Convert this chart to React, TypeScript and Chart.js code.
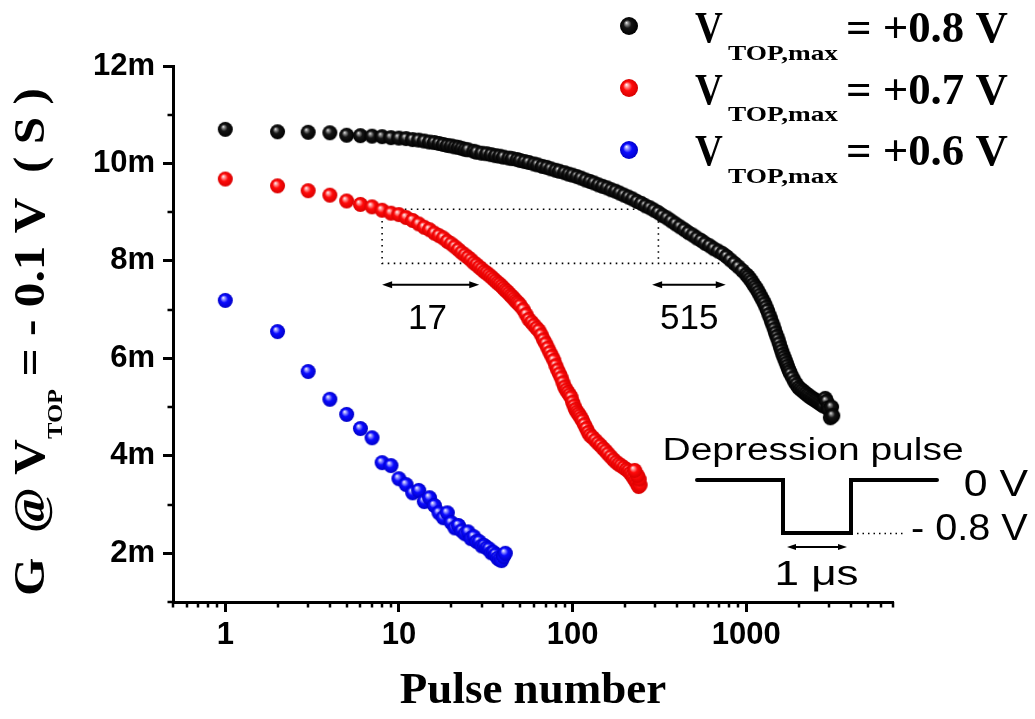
import React, { useEffect, useRef } from 'react';
import { Chart, registerables } from 'chart.js';

Chart.register(...registerables);

const SANS = '"Liberation Sans", Arial, Helvetica, sans-serif';
const SERIF = '"Liberation Serif", "Times New Roman", Times, serif';

// ---- axes ----
const xRange = [0.5, 7000];
const yRange = [1, 12];
const xMajorTicks = [1, 10, 100, 1000];
const xMinorTicks = [0.5, 0.6, 0.7, 0.8, 0.9, 2, 3, 4, 5, 6, 7, 8, 9, 20, 30, 40, 50, 60, 70, 80, 90, 200, 300, 400, 500, 600, 700, 800, 900, 2000, 3000, 4000, 5000, 6000, 7000];
const yMajorTicks = [2, 4, 6, 8, 10, 12];
const yMinorTicks = [1, 3, 5, 7, 9, 11];

// ---- series (G in mS) ----
const seriesVoltages = ['+0.8 V', '+0.7 V', '+0.6 V'];

const blackPulse = [1, 2, 3, 4, 5, 6, 7, 8, 9, 10, 11, 12, 13, 14, 15, 16, 17, 18, 19, 20, 21, 22, 23, 24, 25, 27, 28, 30, 32, 34, 36, 38, 40, 43, 45, 48, 50, 53, 56, 60, 63, 67, 71, 75, 80, 84, 90, 95, 100, 106, 112, 119, 126, 133, 141, 149, 158, 167, 177, 187, 198, 210, 222, 235, 249, 263, 279, 295, 312, 330, 350, 370, 392, 415, 440, 465, 492, 520, 550, 580, 615, 650, 690, 730, 770, 810, 855, 900, 950, 1000, 1025, 1050, 1075, 1100, 1125, 1150, 1175, 1200, 1225, 1250, 1275, 1300, 1325, 1350, 1375, 1400, 1425, 1450, 1475, 1500, 1525, 1550, 1575, 1600, 1625, 1650, 1675, 1700, 1725, 1750, 1775, 1800, 1850, 1900, 1950, 2000, 2050, 2100, 2150, 2200, 2250, 2300, 2350, 2400, 2450, 2500, 2550, 2600, 2650, 2700, 2750, 2800, 2850, 2900, 2950, 3000, 3050, 3100, 3150];
const blackG = [10.70, 10.65, 10.64, 10.63, 10.58, 10.57, 10.56, 10.55, 10.53, 10.52, 10.51, 10.49, 10.48, 10.46, 10.44, 10.43, 10.41, 10.39, 10.37, 10.36, 10.34, 10.33, 10.31, 10.29, 10.28, 10.25, 10.23, 10.21, 10.20, 10.18, 10.16, 10.15, 10.13, 10.11, 10.10, 10.08, 10.06, 10.04, 10.02, 9.99, 9.97, 9.94, 9.92, 9.89, 9.86, 9.84, 9.81, 9.78, 9.76, 9.73, 9.70, 9.66, 9.63, 9.60, 9.56, 9.53, 9.50, 9.46, 9.43, 9.39, 9.35, 9.31, 9.27, 9.22, 9.18, 9.13, 9.09, 9.04, 8.99, 8.93, 8.88, 8.82, 8.76, 8.70, 8.64, 8.58, 8.53, 8.47, 8.42, 8.36, 8.31, 8.25, 8.20, 8.15, 8.09, 8.02, 7.95, 7.88, 7.80, 7.72, 7.68, 7.63, 7.58, 7.52, 7.47, 7.42, 7.36, 7.30, 7.24, 7.18, 7.12, 7.05, 6.98, 6.90, 6.83, 6.75, 6.68, 6.60, 6.52, 6.45, 6.38, 6.30, 6.22, 6.15, 6.08, 6.02, 5.96, 5.90, 5.84, 5.78, 5.73, 5.68, 5.60, 5.52, 5.46, 5.40, 5.37, 5.34, 5.31, 5.28, 5.25, 5.23, 5.20, 5.18, 5.16, 5.14, 5.12, 5.10, 5.08, 5.06, 5.04, 5.02, 5.18, 5.12, 4.98, 4.95, 4.78, 5.00, 4.82];

const redPulse = [1, 2, 3, 4, 5, 6, 7, 8, 9, 10, 11, 12, 13, 14, 15, 16, 17, 18, 19, 20, 21, 22, 23, 24, 25, 26, 27, 28, 29, 30, 31, 32, 33, 34, 35, 36, 37, 38, 39, 40, 41, 42, 43, 44, 45, 46, 47, 48, 49, 50, 52, 54, 56, 58, 60, 62, 64, 66, 68, 70, 72, 74, 76, 78, 80, 82, 84, 86, 88, 90, 92, 94, 96, 98, 100, 102, 104, 106, 108, 110, 112, 114, 117, 120, 123, 126, 130, 135, 140, 145, 150, 155, 160, 166, 172, 178, 184, 190, 197, 204, 210, 215, 220, 225, 230, 235, 240, 245, 242, 236, 228];
const redG = [9.68, 9.54, 9.44, 9.35, 9.23, 9.16, 9.11, 9.04, 8.98, 8.95, 8.89, 8.83, 8.76, 8.69, 8.64, 8.57, 8.52, 8.47, 8.40, 8.35, 8.29, 8.23, 8.17, 8.12, 8.07, 8.02, 7.96, 7.92, 7.87, 7.83, 7.78, 7.75, 7.71, 7.67, 7.63, 7.59, 7.55, 7.52, 7.48, 7.44, 7.40, 7.37, 7.33, 7.29, 7.26, 7.22, 7.18, 7.15, 7.12, 7.08, 7.00, 6.90, 6.80, 6.74, 6.68, 6.62, 6.57, 6.48, 6.38, 6.30, 6.21, 6.12, 6.04, 5.96, 5.85, 5.76, 5.68, 5.60, 5.50, 5.41, 5.35, 5.30, 5.25, 5.20, 5.10, 5.02, 4.95, 4.90, 4.86, 4.82, 4.77, 4.72, 4.64, 4.56, 4.48, 4.42, 4.38, 4.32, 4.26, 4.21, 4.15, 4.10, 4.04, 3.98, 3.92, 3.87, 3.83, 3.80, 3.76, 3.72, 3.69, 3.64, 3.60, 3.54, 3.49, 3.43, 3.37, 3.40, 3.52, 3.60, 3.70];

const bluePulse = [1, 2, 3, 4, 5, 6, 7, 8, 9, 10, 11, 12, 13, 14, 15, 16, 17, 18, 19, 20, 21, 22, 23, 24, 25, 26, 27, 28, 29, 30, 31, 32, 33, 34, 35, 36, 37, 38, 39, 40, 41];
const blueG = [7.19, 6.55, 5.73, 5.16, 4.85, 4.56, 4.37, 3.86, 3.80, 3.53, 3.41, 3.24, 3.29, 3.06, 3.14, 2.98, 2.83, 2.73, 2.83, 2.63, 2.52, 2.57, 2.46, 2.40, 2.44, 2.30, 2.34, 2.24, 2.24, 2.15, 2.16, 2.11, 2.09, 2.01, 2.02, 1.97, 1.90, 1.87, 1.85, 1.93, 2.00];

// ---- annotation (data units) ----
const boxPulse = [8, 312];
const boxG = [9.06, 7.95];
const boxBottomEnd = 700;
const arrow17 = [8, 29];
const arrow515 = [287, 762];
const arrowG = 7.51;
const label17 = { text: '17', pulse: 14.6 };
const label515 = { text: '515', pulse: 470 };
const labelG = 6.61;

type Stop = [number, string];
const ballStops: Stop[][] = [
  [[0, '#f4f4f4'], [0.18, '#8a8a8a'], [0.45, '#151515'], [1, '#000000']],
  [[0, '#ffffff'], [0.2, '#ff9a9a'], [0.5, '#ff0a0a'], [1, '#d80000']],
  [[0, '#ffffff'], [0.2, '#9a9aff'], [0.5, '#0a0aff'], [1, '#0000c8']],
];

function makeBall(r: number, stops: Stop[]) {
  const size = Math.ceil(r * 2) + 2;
  const c = document.createElement('canvas');
  c.width = size;
  c.height = size;
  const g = c.getContext('2d')!;
  const cx = size / 2, cy = size / 2;
  const grad = g.createRadialGradient(cx - r * 0.3, cy - r * 0.38, 0, cx, cy, r);
  stops.forEach(([o, col]) => grad.addColorStop(o, col));
  g.fillStyle = grad;
  g.beginPath();
  g.arc(cx, cy, r, 0, Math.PI * 2);
  g.fill();
  return c;
}

function inkText(ctx: CanvasRenderingContext2D, text: string, font: string, left: number, baseline: number, width?: number) {
  ctx.save();
  ctx.font = font;
  ctx.textAlign = 'left';
  ctx.textBaseline = 'alphabetic';
  ctx.fillStyle = '#000';
  const m = ctx.measureText(text);
  const w = m.actualBoundingBoxLeft + m.actualBoundingBoxRight;
  const sx = width ? width / w : 1;
  ctx.translate(left, baseline);
  ctx.scale(sx, 1);
  ctx.fillText(text, m.actualBoundingBoxLeft, 0);
  ctx.restore();
}

function dArrow(ctx: CanvasRenderingContext2D, x1: number, x2: number, y: number, head = 10, half = 3.5, lw = 2) {
  ctx.save();
  ctx.strokeStyle = '#000';
  ctx.fillStyle = '#000';
  ctx.lineWidth = lw;
  ctx.beginPath();
  ctx.moveTo(x1 + head * 0.5, y);
  ctx.lineTo(x2 - head * 0.5, y);
  ctx.stroke();
  ctx.beginPath();
  ctx.moveTo(x1, y);
  ctx.lineTo(x1 + head, y - half);
  ctx.lineTo(x1 + head, y + half);
  ctx.closePath();
  ctx.fill();
  ctx.beginPath();
  ctx.moveTo(x2, y);
  ctx.lineTo(x2 - head, y - half);
  ctx.lineTo(x2 - head, y + half);
  ctx.closePath();
  ctx.fill();
  ctx.restore();
}

export default function App() {
  const ref = useRef<HTMLCanvasElement>(null);

  useEffect(() => {
    const canvas = ref.current!;
    const balls = ballStops.map((s) => makeBall(7.5, s));
    const legendBalls = ballStops.map((s) => makeBall(9, s));

    const annot = {
      id: 'annot',
      beforeDatasetsDraw(chart: any) {
        const { ctx } = chart;
        const x = chart.scales.x, y = chart.scales.y;
        const l = x.getPixelForValue(boxPulse[0]);
        const r = x.getPixelForValue(boxPulse[1]);
        const t = y.getPixelForValue(boxG[0]);
        const b = y.getPixelForValue(boxG[1]);
        const be = x.getPixelForValue(boxBottomEnd);
        ctx.save();
        ctx.strokeStyle = '#000';
        ctx.lineWidth = 1.6;
        ctx.setLineDash([1.6, 4.4]);
        ctx.beginPath();
        ctx.moveTo(r, t);
        ctx.lineTo(l, t);
        ctx.lineTo(l, b);
        ctx.lineTo(be, b);
        ctx.moveTo(r, t);
        ctx.lineTo(r, b);
        ctx.stroke();
        ctx.restore();
      },
      afterDraw(chart: any) {
        const { ctx, chartArea } = chart;
        const x = chart.scales.x, y = chart.scales.y;
        // minor ticks
        ctx.save();
        ctx.strokeStyle = '#000';
        ctx.lineWidth = 2.5;
        ctx.beginPath();
        xMinorTicks.forEach((v) => {
          const px = Math.round(x.getPixelForValue(v));
          ctx.moveTo(px, chartArea.bottom);
          ctx.lineTo(px, chartArea.bottom + 5.5);
        });
        yMinorTicks.forEach((v) => {
          const py = Math.round(y.getPixelForValue(v));
          ctx.moveTo(chartArea.left, py);
          ctx.lineTo(chartArea.left - 5.5, py);
        });
        ctx.stroke();
        ctx.restore();

        // arrows & labels
        const ay = y.getPixelForValue(arrowG);
        dArrow(ctx, x.getPixelForValue(arrow17[0]), x.getPixelForValue(arrow17[1]), ay);
        dArrow(ctx, x.getPixelForValue(arrow515[0]), x.getPixelForValue(arrow515[1]), ay);
        ctx.save();
        ctx.fillStyle = '#000';
        ctx.font = `35px ${SANS}`;
        ctx.textAlign = 'center';
        ctx.textBaseline = 'alphabetic';
        const ly = y.getPixelForValue(labelG);
        ctx.fillText(label17.text, x.getPixelForValue(label17.pulse), ly);
        ctx.fillText(label515.text, x.getPixelForValue(label515.pulse), ly);
        ctx.restore();

        // pulse inset
        inkText(ctx, 'Depression pulse', `31px ${SANS}`, 665, 460, 297);
        inkText(ctx, '0 V', `36px ${SANS}`, 965, 496, 63);
        inkText(ctx, '- 0.8 V', `37px ${SANS}`, 912, 540, 116);
        inkText(ctx, '1 \u03bcs', `35px ${SANS}`, 777, 585, 81);
        ctx.save();
        ctx.strokeStyle = '#000';
        ctx.lineWidth = 4;
        ctx.lineCap = 'round';
        ctx.lineJoin = 'miter';
        ctx.beginPath();
        ctx.moveTo(697, 480);
        ctx.lineTo(783, 480);
        ctx.lineTo(783, 533);
        ctx.lineTo(851, 533);
        ctx.lineTo(851, 480);
        ctx.lineTo(937, 480);
        ctx.stroke();
        ctx.lineWidth = 1.5;
        ctx.lineCap = 'butt';
        ctx.setLineDash([1.5, 4]);
        ctx.beginPath();
        ctx.moveTo(857, 533.5);
        ctx.lineTo(904, 533.5);
        ctx.stroke();
        ctx.restore();
        dArrow(ctx, 787, 847, 547, 9, 3, 2);

        // legend
        for (let i = 0; i < 3; i++) {
          const b = legendBalls[i];
          ctx.drawImage(b, 629 - b.width / 2, 26 + 62 * i - b.height / 2);
          const base = 42 + 61.6 * i;
          inkText(ctx, 'V', `bold 44px ${SERIF}`, 695, base, 28);
          inkText(ctx, 'TOP,max', `bold 22px ${SERIF}`, 728, base + 17.5, 110);
          inkText(ctx, '= ' + seriesVoltages[i], `bold 44px ${SERIF}`, 848, base, 160);
        }

        // x title
        ctx.save();
        ctx.fillStyle = '#000';
        ctx.font = `bold 45px ${SERIF}`;
        ctx.textAlign = 'center';
        ctx.textBaseline = 'alphabetic';
        ctx.fillText('Pulse number', (chartArea.left + chartArea.right) / 2, 703);
        ctx.restore();

        // y title (rotated, with subscript), stretched along its length
        ctx.save();
        ctx.fillStyle = '#000';
        ctx.textAlign = 'left';
        ctx.textBaseline = 'alphabetic';
        const big = `bold 44px ${SERIF}`;
        const small = `bold 22px ${SERIF}`;
        const segs = [
          { t: 'G  @ V', f: big, dy: 0 },
          { t: 'TOP', f: small, dy: 18 },
          { t: ' = - 0.1 V  ( S )', f: big, dy: 0 },
        ];
        let total = 0;
        segs.forEach((s) => {
          ctx.font = s.f;
          total += ctx.measureText(s.t).width;
        });
        const titleLen = 508;
        ctx.translate(44, 342);
        ctx.rotate(-Math.PI / 2);
        ctx.scale(titleLen / total, 1);
        let cx = -total / 2;
        segs.forEach((s) => {
          ctx.font = s.f;
          ctx.fillText(s.t, cx, s.dy);
          cx += ctx.measureText(s.t).width;
        });
        ctx.restore();
      },
    };

    const mk = (p: number[], g: number[]) => p.map((v, i) => ({ x: v, y: g[i] }));

    const chart = new Chart(canvas, {
      type: 'scatter',
      data: {
        datasets: [
          { label: 'V_TOP,max = ' + seriesVoltages[0], data: mk(blackPulse, blackG), pointStyle: balls[0] as any, pointRadius: 7.5, showLine: false },
          { label: 'V_TOP,max = ' + seriesVoltages[1], data: mk(redPulse, redG), pointStyle: balls[1] as any, pointRadius: 7.5, showLine: false },
          { label: 'V_TOP,max = ' + seriesVoltages[2], data: mk(bluePulse, blueG), pointStyle: balls[2] as any, pointRadius: 7.5, showLine: false },
        ],
      },
      options: {
        responsive: false,
        animation: false,
        devicePixelRatio: 1,
        layout: { padding: { top: 66, right: 142, left: 0, bottom: 0 } },
        plugins: { legend: { display: false }, tooltip: { enabled: false } },
        scales: {
          x: {
            type: 'logarithmic',
            min: xRange[0],
            max: xRange[1],
            border: { display: true, color: '#000', width: 3 },
            grid: { display: true, drawOnChartArea: false, drawTicks: true, tickLength: 10, tickWidth: 3, tickColor: '#000', color: '#000' },
            ticks: {
              autoSkip: false,
              maxRotation: 0,
              minRotation: 0,
              padding: 5,
              color: '#000',
              font: { family: SANS, size: 31, weight: 'bold' },
              callback: (v: any) => String(v),
            },
            afterBuildTicks: (s: any) => {
              s.ticks = xMajorTicks.map((v) => ({ value: v }));
            },
            afterFit: (s: any) => {
              s.height = 117;
            },
          },
          y: {
            type: 'linear',
            min: yRange[0],
            max: yRange[1],
            border: { display: true, color: '#000', width: 3 },
            grid: { display: true, drawOnChartArea: false, drawTicks: true, tickLength: 10, tickWidth: 3, tickColor: '#000', color: '#000' },
            ticks: {
              stepSize: 1,
              padding: 8,
              color: '#000',
              font: { family: SANS, size: 31, weight: 'bold' },
              callback: (v: any) => v + 'm',
            },
            afterBuildTicks: (s: any) => {
              s.ticks = yMajorTicks.map((v) => ({ value: v }));
            },
            afterFit: (s: any) => {
              s.width = 173;
            },
          },
        },
      } as any,
      plugins: [annot],
    });
    return () => chart.destroy();
  }, []);

  return (
    <div style={{ position: 'absolute', left: 0, top: 0, width: 1035, height: 719, background: '#fff' }}>
      <canvas ref={ref} width={1035} height={719} style={{ display: 'block' }} />
    </div>
  );
}
